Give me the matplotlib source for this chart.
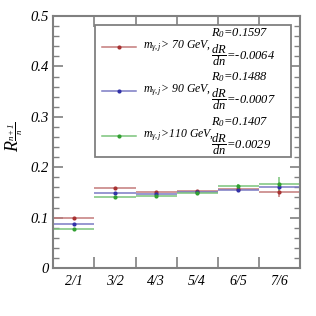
import numpy as np
import matplotlib
matplotlib.use("Agg")
import matplotlib.pyplot as plt
from matplotlib.patches import Rectangle
from matplotlib.ticker import MultipleLocator

plt.rcParams['font.family'] = ['Liberation Serif', 'DejaVu Serif']
plt.rcParams['font.style'] = 'italic'
plt.rcParams['mathtext.fontset'] = 'custom'
plt.rcParams['mathtext.rm'] = 'Liberation Serif:italic'
plt.rcParams['mathtext.it'] = 'Liberation Serif:italic'
plt.rcParams['mathtext.bf'] = 'Liberation Serif:italic'

# data
ratios = ['2/1', '3/2', '4/3', '5/4', '6/5', '7/6']
r_70 = [0.100, 0.159, 0.150, 0.152, 0.156, 0.150]
r_90 = [0.088, 0.148, 0.1465, 0.150, 0.1545, 0.160]
r_110 = [0.077, 0.140, 0.1425, 0.148, 0.162, 0.167]
err_70 = [0.0, 0.0, 0.002, 0.002, 0.003, 0.009]
err_90 = [0.0, 0.0, 0.002, 0.002, 0.004, 0.006]
err_110 = [0.0, 0.0, 0.002, 0.002, 0.004, 0.014]

labels = [r'$m_{\gamma,j}$> 70 GeV,', r'$m_{\gamma,j}$> 90 GeV,', r'$m_{\gamma,j}$>110 GeV,']
r0_vals = ['0.1597', '0.1488', '0.1407']
slope_vals = ['-0.0064', '-0.0007', '0.0029']

marker_colors = ['#a83232', '#3232a8', '#32a032']
line_colors = ['#c47a7a', '#7a7ac4', '#7ac47a']

fig = plt.figure(figsize=(3.16, 3.16), dpi=100)
ax = fig.add_axes([0.169, 0.152, 0.780, 0.797])

x = np.arange(len(ratios)) + 0.5
series = [(r_70, err_70), (r_90, err_90), (r_110, err_110)]
for (vals, errs), mc, lc in zip(series, marker_colors, line_colors):
    ax.errorbar(x, vals, xerr=0.5, yerr=errs, fmt='o', ms=3, color=mc,
                ecolor=lc, elinewidth=1.1, capsize=0, mew=0)

ax.set_xlim(0, len(ratios))
ax.set_ylim(0, 0.5)

gray = '#808080'
for s in ax.spines.values():
    s.set_color(gray)
    s.set_linewidth(1.5)

ax.set_xticks(np.arange(len(ratios) + 1))
ax.set_xticklabels([])
ax.set_xticks(x, minor=True)
ax.set_xticklabels(ratios, minor=True, fontsize=10)
ax.tick_params(axis='x', which='major', direction='in', length=8, width=1.2,
               color=gray, top=True)
ax.tick_params(axis='x', which='minor', length=0, pad=5)

ax.yaxis.set_major_locator(MultipleLocator(0.1))
ax.yaxis.set_minor_locator(MultipleLocator(0.02))
ax.set_yticks([0, 0.1, 0.2, 0.3, 0.4, 0.5])
ax.set_yticklabels(['0', '0.1', '0.2', '0.3', '0.4', '0.5'], fontsize=10.5)
ax.tick_params(axis='y', which='major', direction='in', length=7, width=1.2,
               color=gray, right=True)
ax.tick_params(axis='y', which='minor', direction='in', length=4, width=1.0,
               color=gray, right=True)

ax.set_ylabel(r'$R_{\frac{n+1}{n}}$', fontsize=13)
ax.yaxis.set_label_coords(-0.115, 0.52)

# legend box
ax.add_patch(Rectangle((0.167, 0.439), 0.795, 0.525, transform=ax.transAxes,
                       facecolor='white', edgecolor=gray, lw=1.3, zorder=5))
entry_y = [0.877, 0.702, 0.524]
for i in range(3):
    y = entry_y[i]
    ax.plot([0.197, 0.335], [y, y], transform=ax.transAxes, color=line_colors[i],
            lw=1.1, zorder=6)
    ax.plot([0.266], [y], 'o', ms=3, mew=0, transform=ax.transAxes,
            color=marker_colors[i], zorder=6)
    ax.text(0.363, y + 0.004, labels[i], transform=ax.transAxes, fontsize=8.5,
            va='center', ha='left', zorder=7)
    ax.text(0.64, y + 0.055, r'$R_0$=' + r0_vals[i], transform=ax.transAxes,
            fontsize=9, va='center', ha='left', zorder=7)
    ax.text(0.64, y - 0.03, r'$\dfrac{dR}{dn}$=' + slope_vals[i],
            transform=ax.transAxes, fontsize=9, va='center', ha='left', zorder=7)

fig.savefig('out.png', dpi=100)
